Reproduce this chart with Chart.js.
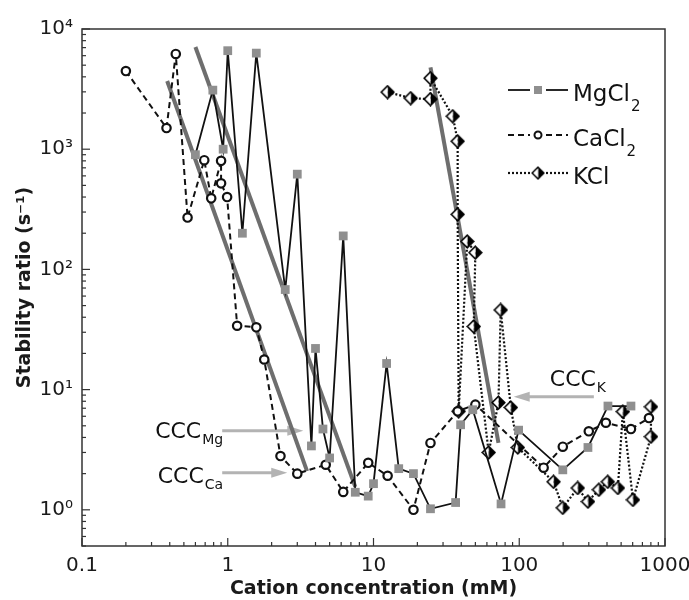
<!DOCTYPE html>
<html>
<head>
<meta charset="utf-8">
<script src="https://cdn.jsdelivr.net/npm/chart.js@4.4.1/dist/chart.umd.min.js"></script>
<style>
  body { margin: 0; background: #fff; }
</style>
</head>
<body>
<canvas id="stabilityChart" width="689" height="600"></canvas>
<script>
// MgCl2 (gray squares, solid line)
const mgX = [0.6, 0.79, 0.93, 1.0, 1.26, 1.57, 2.48, 3.0, 3.75, 4.0, 4.5, 5.0, 6.2, 7.5, 9.2, 10, 12.3, 14.9, 18.8, 24.6, 36.6, 39.6, 48, 75, 99, 199, 296, 406, 584];
const mgY = [900, 3100, 1000, 6600, 200, 6300, 68, 620, 3.4, 22, 4.7, 2.7, 190, 1.4, 1.3, 1.65, 16.5, 2.2, 2.0, 1.02, 1.15, 5.1, 6.8, 1.12, 4.6, 2.15, 3.3, 7.3, 7.3];

// CaCl2 (open circles, dashed line)
const caX = [0.2, 0.38, 0.44, 0.53, 0.69, 0.77, 0.9, 0.9, 0.99, 1.16, 1.57, 1.78, 2.3, 3.0, 4.7, 6.2, 9.2, 12.5, 18.8, 24.6, 37.8, 50, 147, 199, 300, 393, 584, 776];
const caY = [4470, 1500, 6200, 270, 810, 390, 800, 520, 400, 34, 33, 17.8, 2.8, 2.0, 2.37, 1.41, 2.46, 1.92, 1.0, 3.6, 6.6, 7.5, 2.24, 3.35, 4.5, 5.3, 4.7, 5.8];

// KCl (half filled diamonds, dotted line)
const kX = [12.5, 18, 24.6, 24.6, 35, 37.8, 37.8, 38.4, 44, 50, 48.7, 61.7, 72, 74.6, 87.5, 97.7, 172, 199, 252, 296, 352, 405, 475, 514, 603, 801, 801];
const kY = [2985, 2660, 2610, 3900, 1880, 1165, 287, 6.6, 171, 138, 33.5, 3.0, 7.8, 46, 7.1, 3.3, 1.71, 1.04, 1.52, 1.17, 1.47, 1.71, 1.52, 6.56, 1.21, 4.06, 7.2];

// fitted lines (gray)
const fitCaX = [0.384, 3.5];
const fitCaY = [3690, 2.1];
const fitMgX = [0.6, 7.5];
const fitMgY = [7080, 1.55];
const fitKX = [24.6, 72];
const fitKY = [4800, 3.6];

// axis ticks
const xTickValues = [0.1, 1, 10, 100, 1000];
const xTickLabels = ['0.1', '1', '10', '100', '1000'];
const yTickValues = [1, 10, 100, 1000, 10000];
const yTickLabels = ['10⁰', '10¹', '10²', '10³', '10⁴'];

const legendNames = ['MgCl', 'CaCl', 'KCl'];
const legendSubs = ['2', '2', ''];

function toPoints(xs, ys) {
    return xs.map((x, i) => ({ x: x, y: ys[i] }));
}

// half filled diamond used as point style for KCl
function halfDiamond(size) {
    const c = document.createElement('canvas');
    c.width = size;
    c.height = size;
    const g = c.getContext('2d');
    const m = size / 2, r = size / 2 - 1.2;
    g.fillStyle = '#000';
    g.beginPath(); g.moveTo(m, m - r); g.lineTo(m + r, m); g.lineTo(m, m + r); g.closePath(); g.fill();
    g.fillStyle = '#fff';
    g.beginPath(); g.moveTo(m, m - r); g.lineTo(m - r, m); g.lineTo(m, m + r); g.closePath(); g.fill();
    g.strokeStyle = '#000';
    g.lineWidth = 1.6;
    g.beginPath(); g.moveTo(m, m - r); g.lineTo(m + r, m); g.lineTo(m, m + r); g.lineTo(m - r, m); g.closePath(); g.stroke();
    return c;
}

function logTicks(min, max) {
    const out = [];
    for (let e = Math.floor(Math.log10(min)); e <= Math.ceil(Math.log10(max)); e++) {
        for (let k = 1; k <= 9; k++) {
            const v = k * Math.pow(10, e);
            if (v >= min * 0.999 && v <= max * 1.001) out.push({ v: v, major: k === 1 });
        }
    }
    return out;
}

// CCC annotations (data coordinates)
const notes = [
    { sub: 'Mg', from: [0.916, 4.55], to: [3.3, 4.55], label: [0.916, 4.55], align: 'right', dy: -1 },
    { sub: 'Ca', from: [0.916, 2.03], to: [2.56, 2.03], label: [0.916, 2.03], align: 'right', dy: 2 },
    { sub: 'K', from: [325, 8.74], to: [91.6, 8.74], label: [162, 8.74], align: 'left', dy: -19 }
];

document.addEventListener("DOMContentLoaded", function () {
    Chart.defaults.font.family = "'DejaVu Sans', sans-serif";
    Chart.defaults.color = '#1a1a1a';

    const ctx = document.getElementById('stabilityChart').getContext('2d');
    const diamond = halfDiamond(15);

    function textWithSub(c, text, sub, x, baseline, size, subSize, subDrop, align) {
        c.font = size + "px 'DejaVu Sans'";
        const w1 = c.measureText(text).width;
        c.font = subSize + "px 'DejaVu Sans'";
        const w2 = c.measureText(sub).width;
        let left = align === 'right' ? x - w1 - w2 : x;
        c.textAlign = 'left';
        c.textBaseline = 'alphabetic';
        c.font = size + "px 'DejaVu Sans'";
        c.fillText(text, left, baseline);
        c.font = subSize + "px 'DejaVu Sans'";
        c.fillText(sub, left + w1 + 1, baseline + subDrop);
    }

    // arrows behind the data
    const arrows = {
        id: 'arrows',
        beforeDatasetsDraw(chart) {
            const { ctx: c, scales: { x, y } } = chart;
            c.save();
            c.strokeStyle = '#b3b3b3';
            c.fillStyle = '#b3b3b3';
            c.lineWidth = 3;
            notes.forEach(n => {
                const x1 = x.getPixelForValue(n.from[0]), y1 = y.getPixelForValue(n.from[1]);
                const x2 = x.getPixelForValue(n.to[0]), y2 = y.getPixelForValue(n.to[1]);
                const dir = x2 > x1 ? 1 : -1;
                c.beginPath(); c.moveTo(x1, y1); c.lineTo(x2 - dir * 12, y2); c.stroke();
                c.beginPath();
                c.moveTo(x2, y2);
                c.lineTo(x2 - dir * 16, y2 - 5);
                c.lineTo(x2 - dir * 16, y2 + 5);
                c.closePath();
                c.fill();
            });
            c.restore();
        }
    };

    // frame, inward ticks, labels and legend
    const decor = {
        id: 'decor',
        afterDraw(chart) {
            const { ctx: c, chartArea: a, scales: { x, y } } = chart;
            c.save();
            c.strokeStyle = '#333';
            c.lineWidth = 1.5;
            c.strokeRect(a.left, a.top, a.right - a.left, a.bottom - a.top);

            c.lineWidth = 1.2;
            logTicks(x.min, x.max).forEach(t => {
                const px = x.getPixelForValue(t.v);
                c.beginPath(); c.moveTo(px, a.bottom); c.lineTo(px, a.bottom - (t.major ? 8 : 4)); c.stroke();
            });
            logTicks(y.min, y.max).forEach(t => {
                const py = y.getPixelForValue(t.v);
                c.beginPath(); c.moveTo(a.left, py); c.lineTo(a.left + (t.major ? 8 : 4), py); c.stroke();
            });

            // CCC labels
            c.fillStyle = '#111';
            notes.forEach(n => {
                const px = x.getPixelForValue(n.label[0]);
                const py = y.getPixelForValue(n.label[1]) + n.dy;
                textWithSub(c, 'CCC', n.sub, px, py + 8, 22, 14, 6, n.align);
            });

            // legend
            const rows = [90, 135, 173];
            const ds = chart.data.datasets;
            rows.forEach((ry, i) => {
                const d = ds[i];
                c.strokeStyle = '#111';
                c.lineWidth = d.borderWidth;
                c.setLineDash(d.borderDash || []);
                c.beginPath(); c.moveTo(508, ry); c.lineTo(530, ry); c.stroke();
                c.beginPath(); c.moveTo(546, ry); c.lineTo(568, ry); c.stroke();
                c.setLineDash([]);
                if (i === 0) {
                    c.fillStyle = '#8f8f8f';
                    c.fillRect(534, ry - 4, 8, 8);
                } else if (i === 1) {
                    c.fillStyle = '#fff';
                    c.lineWidth = 2;
                    c.beginPath(); c.arc(538, ry, 3.5, 0, Math.PI * 2); c.fill(); c.stroke();
                } else {
                    c.drawImage(diamond, 531, ry - 7, 14, 14);
                }
                c.fillStyle = '#111';
                textWithSub(c, legendNames[i], legendSubs[i], 573, ry + 11, 23, 15, 10, 'left');
            });
            c.restore();
        }
    };

    const data = {
        datasets: [
            {
                label: 'MgCl2',
                data: toPoints(mgX, mgY),
                showLine: true,
                borderColor: '#111',
                borderWidth: 1.8,
                pointStyle: 'rect',
                pointRadius: 6.2,
                pointBackgroundColor: '#8f8f8f',
                pointBorderWidth: 0,
                order: 1
            },
            {
                label: 'CaCl2',
                data: toPoints(caX, caY),
                showLine: true,
                borderColor: '#111',
                borderWidth: 2,
                borderDash: [6, 4],
                pointStyle: 'circle',
                pointRadius: 4.2,
                pointBackgroundColor: '#fff',
                pointBorderColor: '#111',
                pointBorderWidth: 2.2,
                order: 2
            },
            {
                label: 'KCl',
                data: toPoints(kX, kY),
                showLine: true,
                borderColor: '#111',
                borderWidth: 2.2,
                borderDash: [2, 2],
                pointStyle: diamond,
                order: 3
            },
            {
                label: 'fit Ca',
                data: toPoints(fitCaX, fitCaY),
                showLine: true,
                borderColor: '#6e6e6e',
                borderWidth: 4,
                pointRadius: 0,
                order: 10
            },
            {
                label: 'fit Mg',
                data: toPoints(fitMgX, fitMgY),
                showLine: true,
                borderColor: '#6e6e6e',
                borderWidth: 4,
                pointRadius: 0,
                order: 10
            },
            {
                label: 'fit K',
                data: toPoints(fitKX, fitKY),
                showLine: true,
                borderColor: '#6e6e6e',
                borderWidth: 4,
                pointRadius: 0,
                order: 10
            }
        ]
    };

    const config = {
        type: 'scatter',
        data: data,
        options: {
            responsive: false,
            animation: false,
            devicePixelRatio: 1,
            layout: { padding: { top: 29, right: 24, left: 0, bottom: 0 } },
            scales: {
                x: {
                    type: 'logarithmic',
                    min: 0.1,
                    max: 1000,
                    grid: { display: false, drawTicks: false },
                    border: { display: false },
                    afterBuildTicks: function (scale) {
                        scale.ticks = xTickValues.map(v => ({ value: v }));
                    },
                    afterFit: function (scale) {
                        scale.height = 54;
                        scale.paddingLeft = 0;
                        scale.paddingRight = 0;
                    },
                    ticks: {
                        autoSkip: false,
                        maxRotation: 0,
                        padding: 8,
                        font: { size: 20 },
                        callback: (v, i) => xTickLabels[i]
                    },
                    title: {
                        display: true,
                        text: 'Cation concentration (mM)',
                        font: { size: 19, weight: 'bold' },
                        padding: { top: 0, bottom: 0 }
                    }
                },
                y: {
                    type: 'logarithmic',
                    min: 0.5,
                    max: 10000,
                    grid: { display: false, drawTicks: false },
                    border: { display: false },
                    afterBuildTicks: function (scale) {
                        scale.ticks = yTickValues.map(v => ({ value: v }));
                    },
                    afterFit: function (scale) {
                        scale.width = 82;
                        scale.paddingTop = 0;
                        scale.paddingBottom = 0;
                    },
                    ticks: {
                        autoSkip: false,
                        padding: 9,
                        font: { size: 20 },
                        callback: (v, i) => yTickLabels[i]
                    },
                    title: {
                        display: true,
                        text: 'Stability ratio (s⁻¹)',
                        font: { size: 19, weight: 'bold' },
                        padding: { top: 14, bottom: 0 }
                    }
                }
            },
            plugins: {
                legend: { display: false },
                tooltip: { enabled: false }
            }
        },
        plugins: [arrows, decor]
    };

    new Chart(ctx, config);
});
</script>
</body>
</html>
